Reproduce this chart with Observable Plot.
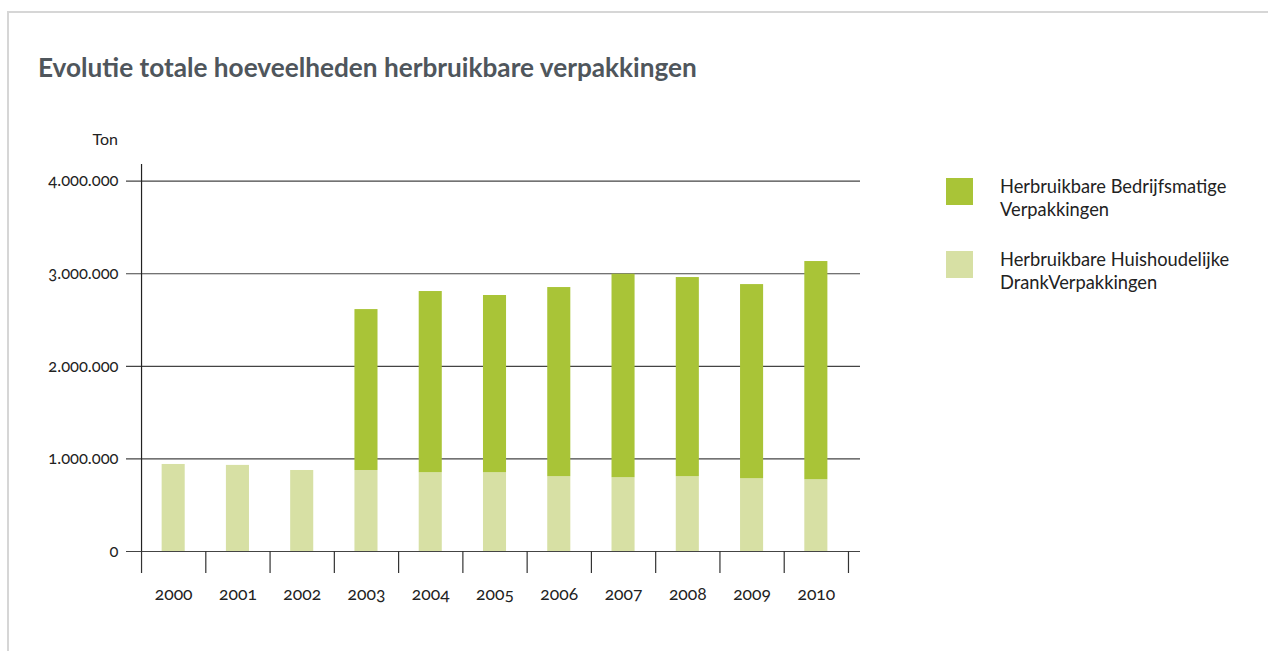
<!DOCTYPE html>
<html>
<head>
<meta charset="utf-8">
<script src="https://cdn.jsdelivr.net/npm/d3@7"></script>
<script src="https://cdn.jsdelivr.net/npm/@observablehq/plot@0.6"></script>
<style>
  html, body { margin: 0; padding: 0; background: #fff; }
  #wrap { position: relative; width: 1268px; height: 651px; overflow: hidden; font-family: Lato, "Open Sans", sans-serif; }
  #border { position: absolute; left: 7px; top: 11px; width: 1300px; height: 700px; border-top: 2px solid #d6d6d6; border-left: 2px solid #d6d6d6; }
  #title { position: absolute; left: 38px; top: 51px; font-size: 26.2px; font-weight: 700; color: #4f565c; white-space: nowrap; }
  #ton { position: absolute; left: 70px; top: 129px; width: 48px; text-align: right; font-size: 16px; color: #222; }
  #chart { position: absolute; left: 0; top: 120px; }
  #legend { position: absolute; left: 946px; top: 176px; font-size: 18.3px; color: #222; line-height: 23px; }
  .item { position: relative; height: 73px; }
  .sw { position: absolute; left: 0; top: 2px; width: 27px; height: 27px; }
  .lt { position: absolute; left: 54px; top: -1px; white-space: nowrap; }
  svg text { font-variant-numeric: oldstyle-nums; }
</style>
</head>
<body>
<div id="wrap">
  <div id="border"></div>
  <div id="title">Evolutie totale hoeveelheden herbruikbare verpakkingen</div>
  <div id="ton">Ton</div>
  <div id="chart"></div>
  <div id="legend"></div>
</div>
<script>
const years = [2000, 2001, 2002, 2003, 2004, 2005, 2006, 2007, 2008, 2009, 2010];
const huishoudelijk = [940000, 930000, 875000, 875000, 851000, 851000, 808000, 797000, 808000, 786000, 775000];
const bedrijfsmatig = [0, 0, 0, 1738000, 1957000, 1914000, 2043000, 2198000, 2151000, 2097000, 2357000];
const seriesNames = ["Herbruikbare Huishoudelijke DrankVerpakkingen", "Herbruikbare Bedrijfsmatige Verpakkingen"];
const seriesColors = ["#d7e0a4", "#a9c437"];
const legendLines = [["Herbruikbare Bedrijfsmatige", "Verpakkingen"], ["Herbruikbare Huishoudelijke", "DrankVerpakkingen"]];
const yTicks = [0, 1000000, 2000000, 3000000, 4000000];

const data = [];
years.forEach((y, i) => {
  data.push({year: y, series: seriesNames[0], value: huishoudelijk[i]});
  data.push({year: y, series: seriesNames[1], value: bedrijfsmatig[i]});
});

const fmt = d => d3.format(",")(d).replace(/,/g, ".");

const chart = Plot.plot({
  width: 900,
  height: 500,
  marginLeft: 126,
  marginRight: 40,
  marginTop: 44,
  marginBottom: 69,
  style: {fontFamily: "Lato, 'Open Sans', sans-serif", fontSize: "16px", color: "#222"},
  x: {domain: [1999.766, 2011.187], axis: null, label: null},
  y: {domain: [0, 4180000], axis: null, label: null},
  color: {domain: seriesNames, range: seriesColors},
  marks: [
    Plot.ruleY(yTicks, {stroke: "#444", strokeWidth: 1.2}),
    Plot.rectY(data, {x: "year", interval: 1, y: "value", fill: "series", insetLeft: 20.6, insetRight: 20.6, order: seriesNames}),
    Plot.ruleX([2000], {stroke: "#222", strokeWidth: 1.2}),
    Plot.axisX(d3.range(2000, 2012), {tickSize: 22, tickFormat: () => "", label: null, stroke: "#333", strokeWidth: 1.2}),
    Plot.text(years, {x: d => d + 0.5, text: d => String(d), frameAnchor: "bottom", dy: 48, fill: "#222", fontSize: 17.5}),
    Plot.axisY(yTicks, {tickSize: 0, tickPadding: 8, tickFormat: fmt, label: null, fill: "#222", fontSize: 16.5})
  ]
});
document.getElementById("chart").appendChild(chart);

const legend = document.getElementById("legend");
[1, 0].forEach((si, k) => {
  const item = document.createElement("div");
  item.className = "item";
  const sw = document.createElement("div");
  sw.className = "sw";
  sw.style.background = seriesColors[si];
  const lt = document.createElement("div");
  lt.className = "lt";
  lt.innerHTML = legendLines[k].join("<br>");
  item.appendChild(sw);
  item.appendChild(lt);
  legend.appendChild(item);
});
</script>
</body>
</html>
